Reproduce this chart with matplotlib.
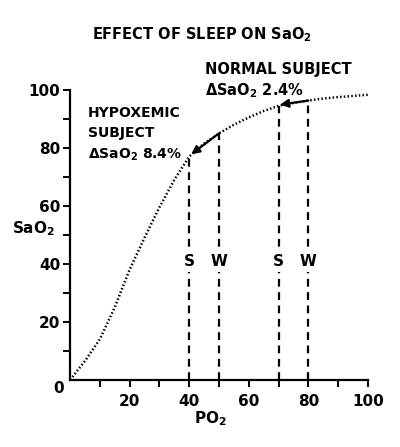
import matplotlib
matplotlib.use("Agg")
import matplotlib.pyplot as plt

plt.rcParams['font.family'] = 'DejaVu Sans'
plt.rcParams['font.weight'] = 'bold'
plt.rcParams['mathtext.default'] = 'bf'

# oxygen dissociation curve
po2 = [0, 5, 10, 15, 20, 25, 30, 35, 40, 45, 50, 55, 60, 65, 70, 75, 80, 85, 90, 95, 100]
sao2 = [0, 6.5, 14, 25, 38, 49, 59.5, 69, 77, 81.5, 85, 88, 90.5, 92.7, 94.5, 95.5, 96.3, 97, 97.5, 97.9, 98.3]

# sleep / wake PO2 for each subject
hypox_sleep, hypox_wake = 40, 50
normal_sleep, normal_wake = 70, 80
marks = [(hypox_sleep, 'S'), (hypox_wake, 'W'), (normal_sleep, 'S'), (normal_wake, 'W')]

xticks = [10, 20, 30, 40, 50, 60, 70, 80, 90, 100]
xlabels = ['', '20', '', '40', '', '60', '', '80', '', '100']
yticks = [10, 20, 30, 40, 50, 60, 70, 80, 90, 100]
ylabels = ['', '20', '', '40', '', '60', '', '80', '', '100']


def sat_at(p):
    return sao2[po2.index(p)]


fig = plt.figure(figsize=(4, 4.47), dpi=100)
ax = fig.add_axes([0.175, 0.150, 0.745, 0.649])

ax.plot(po2, sao2, color='black', linestyle=(0, (0.6, 0.9)), linewidth=1.8)

for p, lab in marks:
    ax.plot([p, p], [0, sat_at(p)], color='black', linestyle=(0, (3.5, 2.5)), linewidth=1.6)
    ax.text(p, 40.7, lab, ha='center', va='center', fontsize=11, fontweight='bold',
            bbox=dict(facecolor='white', edgecolor='none', pad=1.5))

# arrows from wake to sleep along the curve
ax.annotate('', xy=(hypox_sleep + 0.7, sat_at(hypox_sleep) + 0.8),
            xytext=(hypox_wake, sat_at(hypox_wake)),
            arrowprops=dict(arrowstyle='-|>', color='black', lw=1.6, mutation_scale=12,
                            shrinkA=0, shrinkB=0))
ax.annotate('', xy=(normal_sleep + 0.5, sat_at(normal_sleep) + 0.4),
            xytext=(normal_wake, sat_at(normal_wake)),
            arrowprops=dict(arrowstyle='-|>', color='black', lw=1.6, mutation_scale=12,
                            shrinkA=0, shrinkB=0))

ax.set_xlim(0, 100)
ax.set_ylim(0, 100)
for s in ['top', 'right']:
    ax.spines[s].set_visible(False)
for s in ['left', 'bottom']:
    ax.spines[s].set_linewidth(1.6)
ax.set_xticks(xticks)
ax.set_xticklabels(xlabels)
ax.set_yticks(yticks)
ax.set_yticklabels(ylabels)
ax.tick_params(direction='out', length=5, width=1.4, labelsize=11, pad=2)
ax.tick_params(axis='x', pad=5)

ax.text(-4, -2.8, '0', ha='center', va='center', fontsize=11, fontweight='bold', clip_on=False)
ax.text(-12.4, 52, r'SaO$_2$', ha='center', va='center', fontsize=11, fontweight='bold', clip_on=False)
ax.text(47, -13.5, r'PO$_2$', ha='center', va='center', fontsize=11, fontweight='bold', clip_on=False)

ax.text(45.3, 107, 'NORMAL SUBJECT', ha='left', va='center', fontsize=10.5, fontweight='bold', clip_on=False)
ax.text(45.3, 99.8, r'$\Delta$SaO$_2$ 2.4%', ha='left', va='center', fontsize=10.5, fontweight='bold', clip_on=False)
ax.text(6, 92, 'HYPOXEMIC', ha='left', va='center', fontsize=10, fontweight='bold', clip_on=False)
ax.text(6, 85.2, 'SUBJECT', ha='left', va='center', fontsize=10, fontweight='bold', clip_on=False)
ax.text(6, 77.6, r'$\Delta$SaO$_2$ 8.4%', ha='left', va='center', fontsize=10, fontweight='bold', clip_on=False)

fig.text(0.504, 0.922, r'EFFECT OF SLEEP ON SaO$_2$', ha='center', va='center', fontsize=10.5, fontweight='bold')

fig.savefig('out.png', dpi=100)
